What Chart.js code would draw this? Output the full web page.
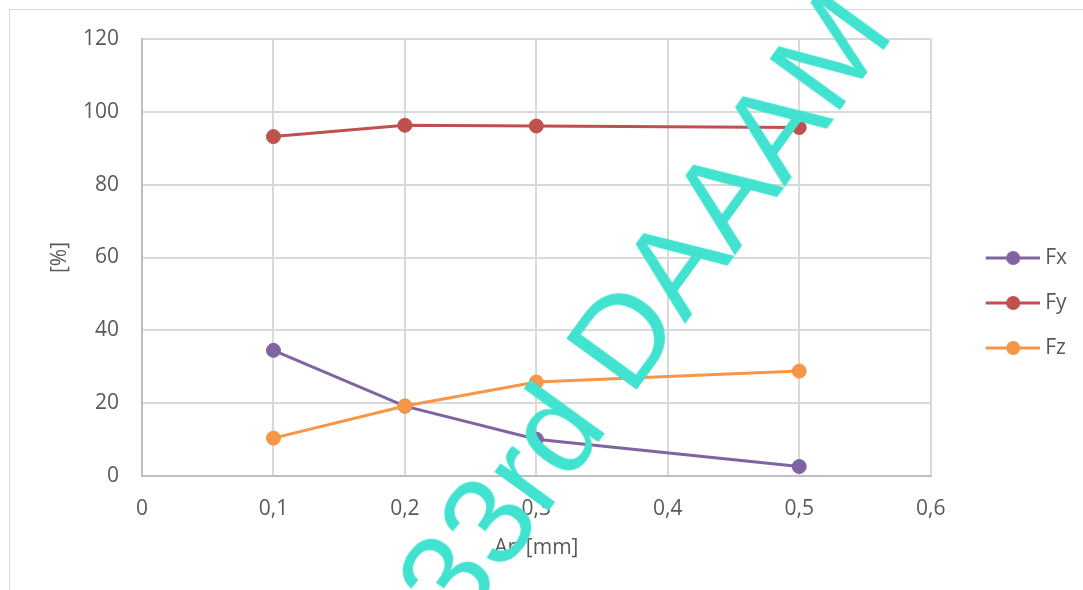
<!DOCTYPE html>
<html>
<head>
<meta charset="utf-8">
<script src="https://cdn.jsdelivr.net/npm/chart.js@4.4.0/dist/chart.umd.min.js"></script>
<style>
  html, body { margin: 0; padding: 0; background: #fff; overflow: hidden; }
  #wrap { position: relative; width: 1083px; height: 590px; overflow: hidden; }
  #frame { position: absolute; left: 9px; top: 9px; width: 1100px; height: 600px; border: 1px solid #d9d9d9; }
  #box { position: absolute; left: 0; top: 0; width: 1083px; height: 590px; }
  #stamp {
    position: absolute; left: 643px; top: 307px;
    transform: translate(-50%, -50%) rotate(-54deg);
    font-family: "Liberation Sans", Arial, sans-serif; font-size: 127px; line-height: 1;
    color: #41e2d0; white-space: nowrap; pointer-events: none;
  }
</style>
</head>
<body>
<div id="wrap">
  <div id="frame"></div>
  <div id="box"><canvas id="chart"></canvas></div>
  <div id="stamp">33rd DAAAM</div>
</div>
<script>
const apValues = [0.1, 0.2, 0.3, 0.5];
const fxValues = [34.5, 19.2, 10.1, 2.6];
const fyValues = [93.2, 96.3, 96.1, 95.7];
const fzValues = [10.4, 19.2, 25.8, 28.8];
const seriesNames = ['Fx', 'Fy', 'Fz'];
const xTickLabels = ['0', '0,1', '0,2', '0,3', '0,4', '0,5', '0,6'];
const yTickLabels = ['0', '20', '40', '60', '80', '100', '120'];

const colors = ['#8064a2', '#c0504d', '#f79646'];
const textColor = '#595959';
const font = { family: '"Open Sans", sans-serif', size: 21 };

const toPoints = vals => vals.map((v, i) => ({ x: apValues[i], y: v }));

// little legend marker: line with a dot in the middle
function legendMark(color) {
  const c = document.createElement('canvas');
  c.width = 90; c.height = 20;
  const g = c.getContext('2d');
  g.strokeStyle = color;
  g.lineWidth = 3;
  g.beginPath();
  g.moveTo(36, 10);
  g.lineTo(90, 10);
  g.stroke();
  g.fillStyle = color;
  g.beginPath();
  g.arc(63.5, 10, 7, 0, Math.PI * 2);
  g.fill();
  return c;
}

const allValues = [fxValues, fyValues, fzValues];
const datasets = seriesNames.map((name, i) => ({
  label: name,
  data: toPoints(allValues[i]),
  borderColor: colors[i],
  backgroundColor: colors[i],
  borderWidth: 3,
  pointRadius: 7,
  pointBorderWidth: 1,
  pointBackgroundColor: colors[i],
  pointBorderColor: colors[i],
  tension: 0,
  order: 3 - i
}));

new Chart(document.getElementById('chart'), {
  type: 'line',
  data: { datasets },
  options: {
    responsive: true,
    maintainAspectRatio: false,
    animation: false,
    layout: { padding: { left: 0, top: 39, right: 6, bottom: 23 } },
    plugins: {
      tooltip: { enabled: false },
      legend: {
        position: 'right',
        labels: {
          usePointStyle: true,
          pointStyleWidth: 80,
          padding: 24,
          color: textColor,
          font,
          generateLabels: chart => chart.data.datasets.map((ds, i) => ({
            text: ds.label,
            pointStyle: legendMark(ds.borderColor),
            fillStyle: ds.borderColor,
            strokeStyle: ds.borderColor,
            lineWidth: 0,
            fontColor: textColor,
            hidden: false,
            datasetIndex: i
          }))
        }
      }
    },
    scales: {
      x: {
        type: 'linear',
        min: 0,
        max: 0.6,
        afterFit: s => { s.height = 91; },
        ticks: {
          stepSize: 0.1,
          padding: 20,
          color: textColor,
          font,
          callback: (v, i) => xTickLabels[i]
        },
        grid: { color: '#d9d9d9', lineWidth: 2, drawTicks: false },
        border: { color: '#bfbfbf', width: 2 },
        title: { display: true, text: 'Ap [mm]', color: textColor, font, padding: { top: 0, bottom: 6 } }
      },
      y: {
        min: 0,
        max: 120,
        afterFit: s => { s.width = 142; },
        ticks: {
          stepSize: 20,
          padding: 23,
          color: textColor,
          font,
          callback: (v, i) => yTickLabels[i]
        },
        grid: { color: '#d9d9d9', lineWidth: 2, drawTicks: false },
        border: { color: '#bfbfbf', width: 2 },
        title: { display: true, text: '[%]', color: textColor, font, padding: { top: 47, bottom: 0 } }
      }
    }
  }
});
</script>
</body>
</html>
